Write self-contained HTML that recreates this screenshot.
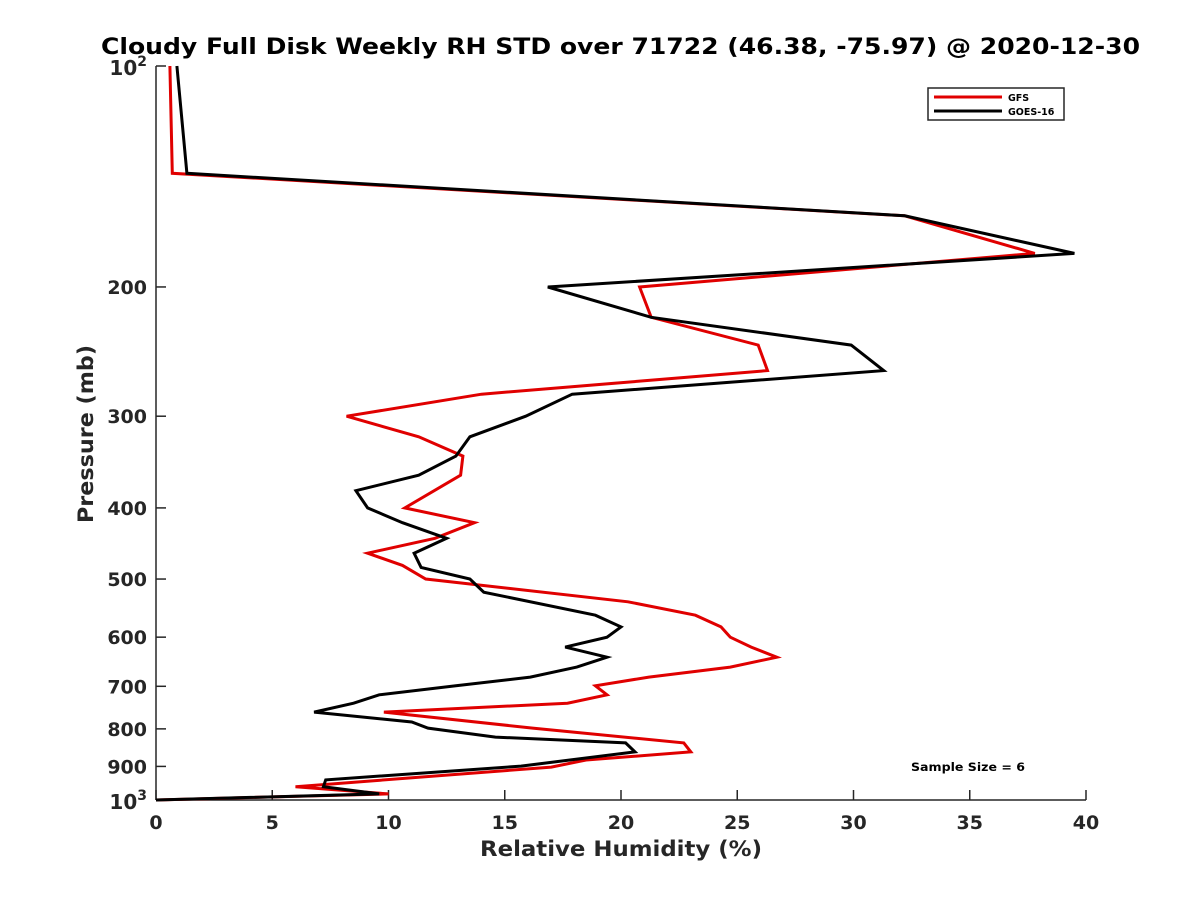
<!DOCTYPE html>
<html><head><meta charset="utf-8"><style>
html,body{margin:0;padding:0;background:#fff;}
svg{display:block;font-family:"DejaVu Sans","Liberation Sans",sans-serif;}
</style></head><body>
<svg id="chart" width="1200" height="900" viewBox="0 0 1200 900">
<rect x="0" y="0" width="1200" height="900" fill="#fff"/>
<text x="101" y="54" textLength="1039" lengthAdjust="spacingAndGlyphs" font-size="22" font-weight="bold" fill="#000">Cloudy Full Disk Weekly RH STD over 71722 (46.38, -75.97) @ 2020-12-30</text>
<g id="axes"></g>
<g id="series"></g>
<text x="480" y="856" textLength="282" lengthAdjust="spacingAndGlyphs" font-size="21" font-weight="bold" fill="#262626">Relative Humidity (%)</text>
<text transform="translate(93,523) rotate(-90)" textLength="178" lengthAdjust="spacingAndGlyphs" font-size="21" font-weight="bold" fill="#262626">Pressure (mb)</text>
<g>
<rect x="928" y="88" width="136" height="32" fill="#fff" stroke="#262626" stroke-width="1.5"/>
<line x1="934" y1="97" x2="1002" y2="97" stroke="#e00000" stroke-width="3"/>
<text x="1008" y="101" font-size="9.5" font-weight="bold" fill="#000">GFS</text>
<line x1="934" y1="111" x2="1002" y2="111" stroke="#000" stroke-width="3"/>
<text x="1008" y="115" font-size="9.5" font-weight="bold" fill="#000">GOES-16</text>
</g>
<text x="911" y="771" textLength="114" lengthAdjust="spacingAndGlyphs" font-size="11.5" font-weight="bold" fill="#000">Sample Size = 6</text>
</svg>
<script>
const xTicks = [0,5,10,15,20,25,30,35,40];
const yTicks = [200,300,400,500,600,700,800,900];
const gfsP  = [100,140,160,180,200,220,240,260,280,300,320,340,361,400,419,440,461,479,500,537,560,581,600,619,639,659,680,699,719,738,759,798,836,860,882,902,959,981,1000];
const gfsRH = [0.6,0.7,32.2,37.8,20.8,21.3,25.9,26.3,14.0,8.2,11.3,13.2,13.1,10.7,13.7,12.0,9.1,10.6,11.6,20.3,23.2,24.3,24.7,25.6,26.7,24.7,21.2,18.9,19.4,17.7,9.8,16.2,22.7,23.0,18.5,17.0,6.0,10.0,0];
const goesP  = [100,140,160,180,200,220,240,260,280,300,320,340,361,379,400,419,440,461,482,500,521,560,581,600,619,639,659,680,699,719,738,759,783,798,821,836,860,899,939,959,981,1000];
const goesRH = [0.9,1.33,32.2,39.5,16.85,21.3,29.9,31.3,17.9,15.9,13.5,12.9,11.3,8.6,9.1,10.6,12.5,11.1,11.4,13.5,14.1,18.9,20.0,19.4,17.6,19.4,18.1,16.1,12.9,9.6,8.5,6.8,11.0,11.7,14.6,20.2,20.6,15.7,7.3,7.2,9.6,0];

const X0=156, X1=1086, Y0=66, Y1=800;
const xs = v => X0 + (v/40)*(X1-X0);
const ys = p => Y0 + (Math.log10(p)-2)*(Y1-Y0);
const NS="http://www.w3.org/2000/svg";
const axes=document.getElementById('axes');
const ser=document.getElementById('series');
function mk(tag, attrs, parent){const e=document.createElementNS(NS,tag);for(const k in attrs)e.setAttribute(k,attrs[k]);parent.appendChild(e);return e;}

let l=mk('line',{x1:X0,y1:Y0,x2:X0,y2:Y1,stroke:'#262626','stroke-width':1.5},axes);


l=mk('line',{x1:X0,y1:Y1,x2:X1,y2:Y1,stroke:'#262626','stroke-width':1.5},axes);



xTicks.forEach(v=>{
  const t=mk('line',{x1:xs(v),y1:Y1,x2:xs(v),y2:Y1-10,stroke:'#262626','stroke-width':1.5},axes);
  
  
  const tx=mk('text',{x:xs(v),y:Y1+29,'text-anchor':'middle','font-size':19,'font-weight':'bold',fill:'#262626'},axes);
  tx.textContent=v;
  
  
});
[100,...yTicks,1000].forEach(p=>{
  const t=mk('line',{x1:X0,y1:ys(p),x2:X0+10,y2:ys(p),stroke:'#262626','stroke-width':1.5},axes);
  
  
});
yTicks.forEach(p=>{
  const tx=mk('text',{x:X0-9,y:ys(p)+7,'text-anchor':'end','font-size':19,'font-weight':'bold',fill:'#262626'},axes);
  tx.textContent=p;
  
  
});
[[100,'2'],[1000,'3']].forEach(([p,e])=>{
  const tx=mk('text',{x:X0-9,y:ys(p)+9,'text-anchor':'end','font-size':20,'font-weight':'bold',fill:'#262626'},axes);
  tx.textContent='10';
  
  
  const sup=mk('tspan',{dy:-9,'font-size':14},tx);
  sup.textContent=e;
});

function line(P,R,color,name){
  const pts=P.map((p,i)=>xs(R[i]).toFixed(1)+','+ys(p).toFixed(1)).join(' ');
  const pl=mk('polyline',{points:pts,fill:'none',stroke:color,'stroke-width':3,'stroke-linejoin':'miter'},ser);
  
  
}
line(gfsP,gfsRH,'#e00000','gfs-line');
line(goesP,goesRH,'#000','goes16-line');
</script>
</body></html>
